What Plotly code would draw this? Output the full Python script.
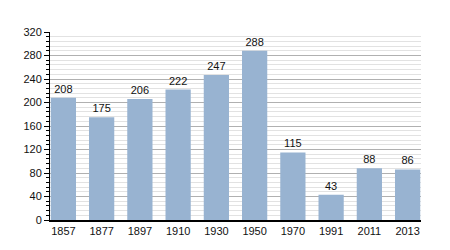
import plotly.graph_objects as go

years = ["1857", "1877", "1897", "1910", "1930", "1950", "1970", "1991", "2011", "2013"]
population = [208, 175, 206, 222, 247, 288, 115, 43, 88, 86]
y_ticks = [0, 40, 80, 120, 160, 200, 240, 280, 320]

fig = go.Figure()
fig.add_trace(go.Bar(
    x=years, y=population,
    marker=dict(color="#98b3d1", line=dict(width=0)),
    text=[str(v) for v in population], textposition="outside",
    textfont=dict(family="Liberation Sans, Arial", size=11, color="#111"),
    cliponaxis=False, width=0.66,
))
fig.update_layout(
    width=450, height=250,
    margin=dict(l=50, r=29, t=32, b=30),
    paper_bgcolor="white", plot_bgcolor="white",
    showlegend=False,
    font=dict(family="Liberation Sans, Arial", size=11, color="#111"),
    xaxis=dict(type="category", range=[-0.35, 9.35], showline=True, linecolor="black",
               linewidth=1.5, ticks="", showgrid=False, tickfont=dict(size=11)),
    yaxis=dict(range=[0, 320], tickvals=y_ticks, showline=True, linecolor="black",
               linewidth=1, ticks="outside", ticklen=5, tickcolor="black",
               gridcolor="#b0b0b0", gridwidth=1, zeroline=False,
               minor=dict(dtick=8, ticks="outside", ticklen=3, tickcolor="black",
                          showgrid=True, gridcolor="#e2e2e2", gridwidth=1),
               tickfont=dict(size=11)),
)
fig.write_html("out.html")
